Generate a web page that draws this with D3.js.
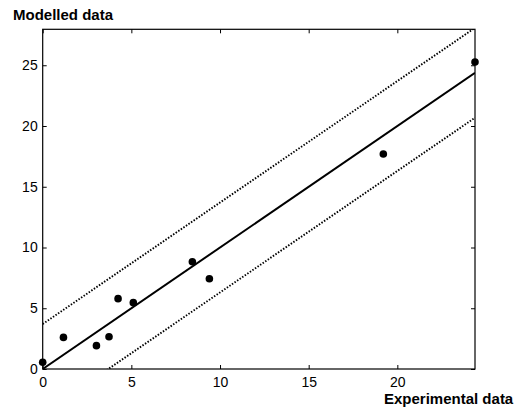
<!DOCTYPE html>
<html><head><meta charset="utf-8">
<script src="https://cdn.jsdelivr.net/npm/d3@7"></script>
<style>
html,body{margin:0;padding:0;background:#fff;}
text{font-family:"Liberation Sans",Arial,Helvetica,sans-serif;fill:#000;}
</style></head>
<body><svg id="c" width="521" height="408"></svg>
<script>
const experimental = [0.0, 1.17, 3.03, 3.74, 4.25, 5.11, 8.44, 9.40, 19.21, 24.38];
const modelled     = [0.55, 2.60, 1.92, 2.66, 5.79, 5.46, 8.83, 7.43, 17.70, 25.27];
const lineX  = [0, 24.38];
const fitY   = [0, 24.38];
const upperY = [3.7, 28.08];
const lowerY = [-3.7, 20.68];
const xTicks = [0, 5, 10, 15, 20];
const yTicks = [0, 5, 10, 15, 20, 25];
const xDomain = [0, 24.38];
const yDomain = [0, 27.96];
const xTitle = "Experimental data";
const yTitle = "Modelled data";

const L = 42.7, R = 475, T = 29.3, B = 369;
const svg = d3.select("#c");
const x = d3.scaleLinear().domain(xDomain).range([L, R]);
const y = d3.scaleLinear().domain(yDomain).range([B, T]);

svg.append("defs").append("clipPath").attr("id","clip")
  .append("rect").attr("x",L).attr("y",T).attr("width",R-L).attr("height",B-T);

const tl = 4;
const gx = svg.append("g").attr("transform",`translate(0,${B})`)
  .call(d3.axisBottom(x).tickValues(xTicks).tickSize(-tl).tickPadding(8).tickFormat(d3.format("d")));
const gxTop = svg.append("g").attr("transform",`translate(0,${T})`)
  .call(d3.axisTop(x).tickValues(xTicks).tickSize(-tl).tickFormat(""));
const gy = svg.append("g").attr("transform",`translate(${L},0)`)
  .call(d3.axisLeft(y).tickValues(yTicks).tickSize(-tl).tickPadding(5).tickFormat(d3.format("d")));
const gyR = svg.append("g").attr("transform",`translate(${R},0)`)
  .call(d3.axisRight(y).tickValues(yTicks).tickSize(-tl).tickFormat(""));
[gx,gxTop,gy,gyR].forEach(g=>{
  g.select(".domain").remove();
  g.selectAll(".tick line").attr("stroke","#000").attr("stroke-width",1);
  g.selectAll("text").attr("font-size",14).attr("font-family","'Liberation Sans',Arial,sans-serif").attr("fill","#000");
});
gx.selectAll("text").attr("dy","0.71em");
svg.append("rect").attr("x",L).attr("y",T).attr("width",R-L).attr("height",B-T)
  .attr("fill","none").attr("stroke","#000").attr("stroke-width",1.2);

const line = d3.line().x(d=>x(d[0])).y(d=>y(d[1]));
const plot = svg.append("g").attr("clip-path","url(#clip)");
plot.append("path").datum(lineX.map((v,i)=>[v,fitY[i]])).attr("d",line)
  .attr("fill","none").attr("stroke","#000").attr("stroke-width",2);
[upperY, lowerY].forEach(arr=>{
  plot.append("path").datum(lineX.map((v,i)=>[v,arr[i]])).attr("d",line)
    .attr("fill","none").attr("stroke","#000").attr("stroke-width",1.9).attr("stroke-dasharray","1.5,1.6");
});

svg.append("g").selectAll("circle").data(experimental.map((v,i)=>[v,modelled[i]])).join("circle")
  .attr("cx",d=>x(d[0])).attr("cy",d=>y(d[1])).attr("r",3.8).attr("fill","#000");

svg.append("text").attr("x",13).attr("y",20).attr("font-size",15).attr("font-weight","bold").text(yTitle);
svg.append("text").attr("x",384).attr("y",404).attr("font-size",15).attr("font-weight","bold").text(xTitle);
</script></body></html>
